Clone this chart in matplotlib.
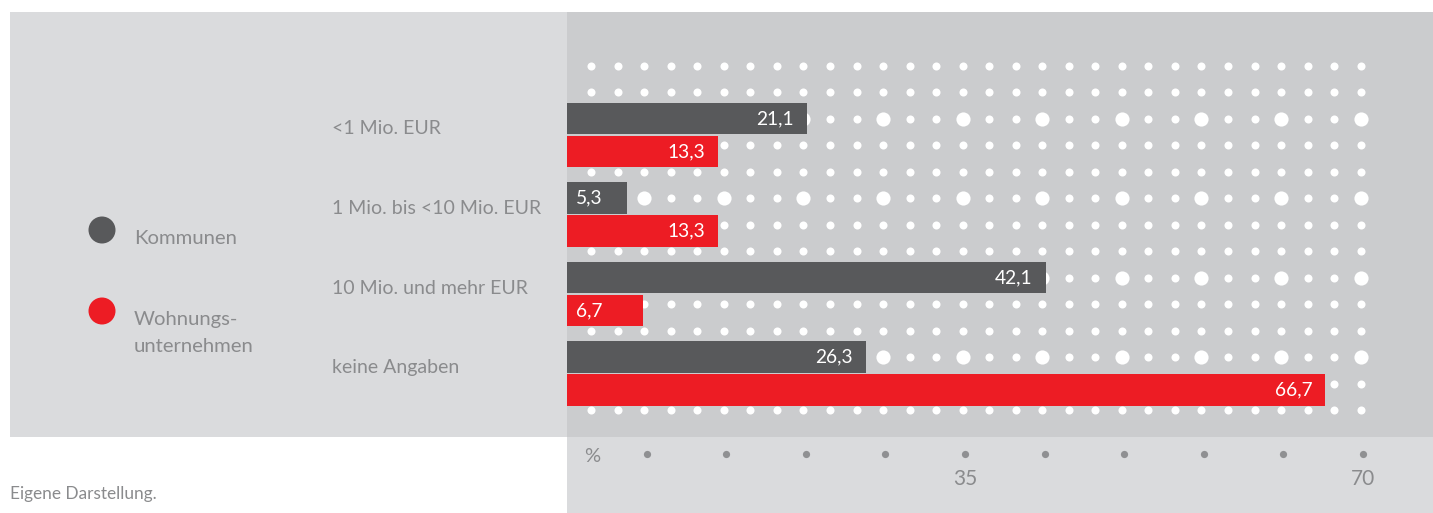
import numpy as np
import matplotlib
matplotlib.use("Agg")
import matplotlib.pyplot as plt
from matplotlib.patches import Rectangle, Circle

plt.rcParams['font.family'] = ['Lato', 'DejaVu Sans']

# ---- data ----
categories = ["<1 Mio. EUR", "1 Mio. bis <10 Mio. EUR", "10 Mio. und mehr EUR", "keine Angaben"]
kommunen = [21.1, 5.3, 42.1, 26.3]
wohnungsunternehmen = [13.3, 13.3, 6.7, 66.7]
series_names = ["Kommunen", "Wohnungs-\nunternehmen"]
tick_values = [35, 70]
tick_marks = [7, 14, 21, 28, 35, 42, 49, 56, 63, 70]
axis_unit = "%"
source_note = "Eigene Darstellung."

# ---- style ----
DARK = "#58595B"
RED = "#ED1C24"
PANEL_LIGHT = "#DADBDD"
PANEL_DARK = "#CBCCCE"
TEXT_GRAY = "#8A8B8D"
TICK_DOT = "#8F9092"

W, H = 1433, 513
fig = plt.figure(figsize=(W / 100, H / 100), dpi=100)
fig.patch.set_facecolor("white")


def fx(px):
    return px / W


def fy(py):
    return 1 - py / H


def bare(a):
    a.set_xticks([])
    a.set_yticks([])
    for s in a.spines.values():
        s.set_visible(False)


# left label panel (behind the axes)
fig.patches.append(Rectangle((fx(10), fy(437)), fx(567) - fx(10), fy(12) - fy(437),
                             transform=fig.transFigure, facecolor=PANEL_LIGHT,
                             edgecolor="none", zorder=-2))

# scale: pixels per percentage point
PX_PER_UNIT = 11.37
ROW_PX = 26.5
ROW0_PX = 65.5
x_max = (W - 567) / PX_PER_UNIT

ax = fig.add_axes([fx(567), fy(437), fx(W) - fx(567), fy(12) - fy(437)])
ax.set_facecolor(PANEL_DARK)
ax.set_xlim(0, x_max)
ax.set_ylim((437 - ROW0_PX) / ROW_PX, (12 - ROW0_PX) / ROW_PX)
bare(ax)

# dotted background grid
n_rows = 14
cols = np.arange(1, 31) * 7 / 3
big_rows = [2, 5, 8, 11]
for r in range(n_rows):
    for c in cols:
        is_big = (r in big_rows) and (abs(c / 7 - round(c / 7)) < 1e-6)
        ax.scatter(c - 0.2, r, s=(10.2 if is_big else 5.8) ** 2, color="white",
                   linewidths=0, zorder=1)

# bars
bar_h = 1.2
red_off = 1.245
for i, (k, w) in enumerate(zip(kommunen, wohnungsunternehmen)):
    yk = 2 + 3 * i
    yw = yk + red_off
    ax.barh(yk, k, height=bar_h, color=DARK, zorder=2)
    ax.barh(yw, w, height=bar_h, color=RED, zorder=2)
    for val, yy in ((k, yk), (w, yw)):
        lbl = f"{val:.1f}".replace(".", ",")
        if val < 8:
            ax.annotate(lbl, xy=(0, yy), xytext=(9, 0), textcoords="offset pixels",
                        ha="left", va="center", color="white", fontsize=13.8, zorder=3)
        else:
            ax.annotate(lbl, xy=(val, yy), xytext=(-13, 0), textcoords="offset pixels",
                        ha="right", va="center", color="white", fontsize=13.8, zorder=3)

# lower scale strip
ax2 = fig.add_axes([fx(567), fy(513), fx(W) - fx(567), fy(437) - fy(513)])
ax2.set_facecolor(PANEL_LIGHT)
ax2.set_xlim(0, x_max)
ax2.set_ylim(513, 437)
bare(ax2)
ax2.scatter(tick_marks, [454] * len(tick_marks), s=5.2 ** 2, color=TICK_DOT,
            linewidths=0)
for t in tick_values:
    ax2.text(t, 479, str(t), ha="center", va="center", color=TEXT_GRAY, fontsize=15)
ax2.text(25 / PX_PER_UNIT, 456, axis_unit, ha="center", va="center",
         color=TEXT_GRAY, fontsize=14.5)

# category labels
cat_y = [128, 208, 289, 367]
for lbl, yy in zip(categories, cat_y):
    fig.text(fx(332), fy(yy), lbl, ha="left", va="center", color=TEXT_GRAY, fontsize=14)

# legend
legend_colors = [DARK, RED]
legend_dot_y = [230, 311]
legend_text_y = [238, 333]
for col, dy, ty, name in zip(legend_colors, legend_dot_y, legend_text_y, series_names):
    fig.patches.append(Circle((102 / 100, (H - dy) / 100), 13.5 / 100,
                              transform=fig.dpi_scale_trans,
                              facecolor=col, edgecolor="none", zorder=2))
    fig.text(fx(134), fy(ty), name, ha="left", va="center", color=TEXT_GRAY,
             fontsize=14.6, linespacing=1.75)

fig.text(fx(10), fy(494), source_note, ha="left", va="center", color=TEXT_GRAY, fontsize=12.4)

fig.savefig("out.png", dpi=100, facecolor=fig.get_facecolor())
